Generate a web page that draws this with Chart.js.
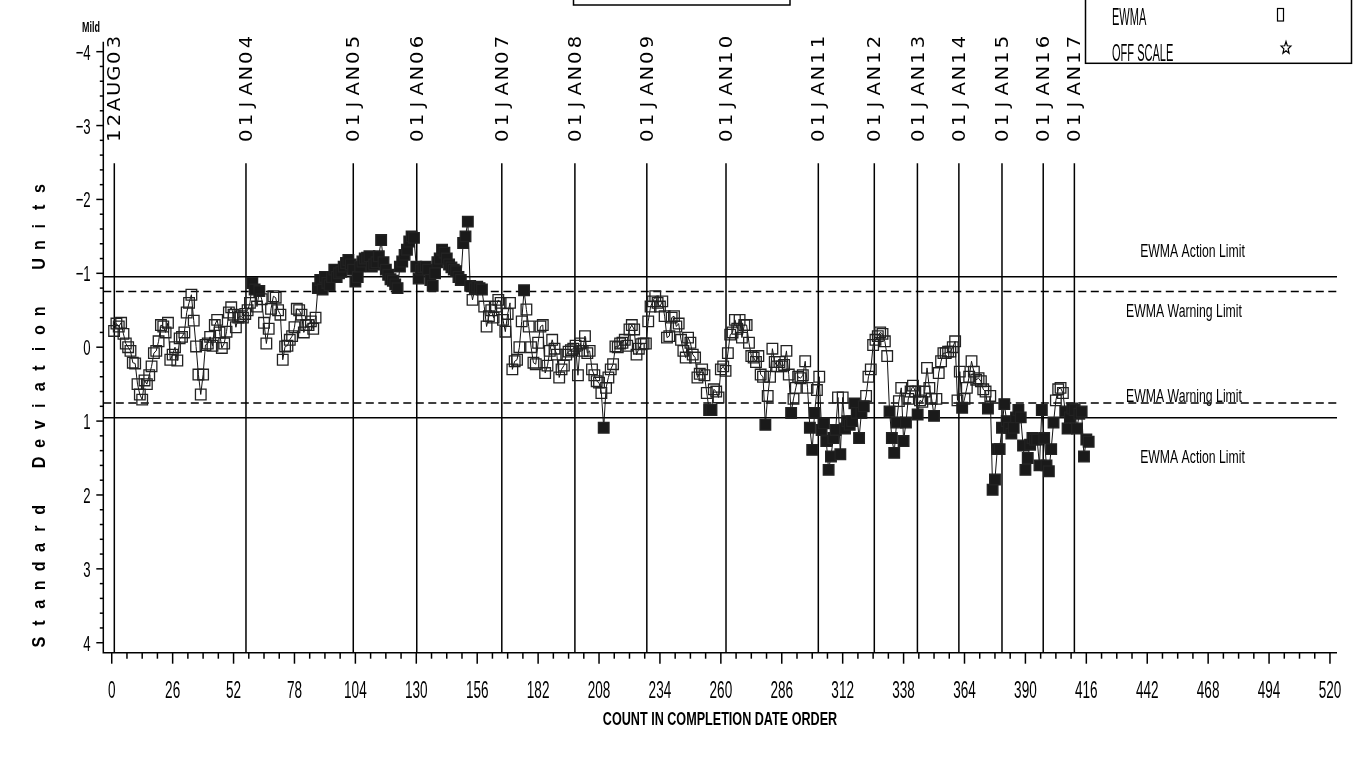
<!DOCTYPE html>
<html>
<head>
<meta charset="utf-8">
<title>EWMA chart</title>
<script src="https://cdn.jsdelivr.net/npm/chart.js@4.4.1/dist/chart.umd.min.js"></script>
<style>
  html, body { margin: 0; padding: 0; background: #fff; }
  #chart { display: block; }
</style>
</head>
<body>
<canvas id="chart" width="1357" height="761"></canvas>
<script>
// EWMA in standard deviation units, one value per count (1..417)
const ewmaValues = [
  // 1-83
  -0.22,-0.32,-0.28,-0.33,-0.18,-0.05,0.00,0.05,0.21,0.22,
  0.50,0.64,0.71,0.45,0.50,0.38,0.26,0.08,0.05,-0.08,
  -0.30,-0.28,-0.20,-0.33,0.17,0.10,0.00,0.18,-0.12,-0.14,
  -0.20,-0.47,-0.60,-0.71,-0.36,-0.01,0.37,0.64,0.37,-0.03,
  -0.05,-0.14,-0.02,-0.30,-0.37,-0.20,0.01,-0.05,-0.21,-0.47,
  -0.54,-0.44,-0.27,-0.40,-0.42,-0.40,-0.45,-0.50,-0.60,-0.87,
  -0.78,-0.55,-0.76,-0.65,-0.33,-0.05,-0.25,-0.52,-0.69,-0.67,
  -0.50,-0.44,0.17,-0.01,-0.02,-0.10,-0.15,-0.27,-0.52,-0.50,
  -0.44,-0.20,-0.30,
  // 84-165
  -0.30,-0.35,-0.25,-0.40,-0.80,-0.91,-0.78,-0.95,-0.87,-0.84,
  -0.95,-1.05,-0.95,-1.00,-1.02,-1.09,-1.14,-1.18,-1.12,-1.05,
  -0.89,-0.95,-1.09,-1.16,-1.20,-1.21,-1.23,-1.09,-1.12,-1.15,
  -1.23,-1.45,-1.15,-1.05,-0.98,-0.92,-0.90,-0.85,-0.80,-1.09,
  -1.16,-1.25,-1.32,-1.43,-1.50,-1.48,-1.09,-0.93,-1.05,-1.08,
  -1.09,-1.05,-0.91,-0.83,-1.00,-1.15,-1.20,-1.32,-1.28,-1.20,
  -1.12,-1.08,-1.05,-1.03,-0.95,-0.91,-1.41,-1.50,-1.70,-0.83,
  -0.64,-0.80,-0.82,-0.80,-0.78,-0.55,-0.28,-0.42,-0.50,-0.40,
  -0.55,-0.64,
  // 166-255
  -0.60,-0.37,-0.21,-0.45,-0.60,0.30,0.19,0.17,0.00,-0.35,
  -0.77,-0.51,-0.28,0.00,0.21,0.23,-0.06,-0.28,-0.30,0.35,
  0.25,0.05,-0.10,0.02,0.10,0.41,0.30,0.25,0.10,0.06,
  0.04,0.02,-0.02,0.38,-0.05,0.05,-0.15,0.08,0.05,0.30,
  0.38,0.46,0.48,0.62,1.09,0.55,0.41,0.30,0.23,-0.01,
  0.00,-0.05,-0.06,-0.10,-0.02,-0.24,-0.30,-0.24,0.10,0.02,
  -0.04,-0.05,-0.05,-0.35,-0.55,-0.62,-0.69,-0.60,-0.55,-0.62,
  -0.42,-0.13,-0.15,-0.40,-0.42,-0.28,-0.32,-0.10,0.05,0.14,
  -0.13,-0.06,0.10,0.14,0.41,0.36,0.30,0.38,0.62,0.85,
  // 256-338
  0.85,0.57,0.60,0.68,0.30,0.26,0.32,0.08,-0.17,-0.20,
  -0.37,-0.25,-0.37,-0.13,-0.30,-0.30,-0.06,0.12,0.14,0.20,
  0.12,0.37,0.40,1.05,0.66,0.40,0.02,0.20,0.26,0.20,
  0.26,0.24,0.05,0.37,0.89,0.70,0.55,0.40,0.42,0.38,
  0.19,0.55,1.09,1.39,0.89,0.58,0.40,1.12,1.03,1.27,
  1.66,1.48,1.23,1.12,0.68,1.45,0.68,1.10,1.00,1.05,
  1.00,0.76,0.89,1.23,0.89,0.80,0.66,0.40,0.30,-0.03,
  -0.10,-0.15,-0.20,-0.18,-0.08,0.12,0.87,1.23,1.43,1.02,
  0.73,0.55,1.27,
  // 339-417
  1.02,0.70,0.60,0.52,0.60,0.91,0.72,0.74,0.60,0.28,
  0.55,0.70,0.93,0.70,0.35,0.19,0.08,0.08,0.06,0.06,
  0.00,-0.08,0.72,0.33,0.82,0.70,0.55,0.40,0.19,0.33,
  0.44,0.42,0.46,0.57,0.60,0.83,0.66,1.93,1.79,1.38,
  1.38,1.09,0.77,1.00,1.09,1.17,1.09,0.95,0.85,0.95,
  1.33,1.66,1.50,1.32,1.23,1.25,1.25,1.60,0.85,1.23,
  1.60,1.68,1.38,1.02,0.72,0.57,0.55,0.62,0.87,1.10,
  0.95,0.83,0.85,1.10,0.90,0.87,1.48,1.25,1.28
];

// reference dates and the count at which each one falls
const dateLabels = ['12AUG03','01JAN04','01JAN05','01JAN06','01JAN07','01JAN08','01JAN09','01JAN10',
                    '01JAN11','01JAN12','01JAN13','01JAN14','01JAN15','01JAN16','01JAN17'];
const datePositions = [1.1, 57.3, 103.1, 130.2, 166.5, 197.7, 228.4, 262.2,
                       301.6, 325.5, 343.9, 361.6, 380.0, 397.6, 410.9];

const xTickValues = [0,26,52,78,104,130,156,182,208,234,260,286,312,338,364,390,416,442,468,494,520];
const yTickValues = [-4,-3,-2,-1,0,1,2,3,4];

const actionLimit = 0.955;
const warningLimit = 0.755;
const limitLabels = ['EWMA Action Limit', 'EWMA Warning Limit', 'EWMA Warning Limit', 'EWMA Action Limit'];
const legendLabels = ['EWMA', 'OFF SCALE'];

const FONT = '"Liberation Sans", Arial, sans-serif';

// SAS style lettering is very narrow, so squeeze the glyphs horizontally
function squeezedText(ctx, text, x, y, size, sx, align, bold) {
  ctx.save();
  ctx.translate(x, y);
  ctx.scale(sx, 1);
  ctx.font = (bold ? 'bold ' : '') + size + 'px ' + FONT;
  ctx.textAlign = align;
  ctx.textBaseline = 'alphabetic';
  ctx.fillStyle = '#000';
  ctx.fillText(text, 0, 0);
  ctx.restore();
}

// text running bottom to top, one character at a time
function verticalChars(ctx, text, cx, startY, step, font, stretch, spaceSlots) {
  let pos = startY;
  for (const ch of text) {
    if (ch === ' ') { pos -= step * spaceSlots; continue; }
    ctx.save();
    ctx.translate(cx, pos);
    ctx.rotate(-Math.PI / 2);
    ctx.scale(stretch, 1);
    ctx.font = font;
    ctx.textAlign = 'center';
    ctx.textBaseline = 'middle';
    ctx.fillStyle = '#000';
    ctx.fillText(ch, 0, 0);
    ctx.restore();
    pos -= step;
  }
}

const ewmaDecor = {
  id: 'ewmaDecor',
  beforeDatasetsDraw(chart) {
    const { ctx, chartArea: a, scales: { x, y } } = chart;
    ctx.save();
    ctx.strokeStyle = '#000';
    ctx.lineWidth = 1.5;
    const limits = [[-actionLimit, []], [-warningLimit, [8, 4.5]], [warningLimit, [8, 4.5]], [actionLimit, []]];
    limits.forEach(([v, dash]) => {
      const py = y.getPixelForValue(v);
      ctx.setLineDash(dash);
      ctx.beginPath();
      ctx.moveTo(a.left, py);
      ctx.lineTo(a.right, py);
      ctx.stroke();
    });
    ctx.setLineDash([]);
    const lineTop = y.getPixelForValue(-2.49);
    datePositions.forEach(p => {
      const px = x.getPixelForValue(p);
      ctx.beginPath();
      ctx.moveTo(px, lineTop);
      ctx.lineTo(px, a.bottom);
      ctx.stroke();
    });
    ctx.restore();
  },
  afterDraw(chart) {
    const { ctx, chartArea: a, scales: { x, y } } = chart;
    ctx.save();
    ctx.strokeStyle = '#000';
    ctx.lineWidth = 1.5;

    // axis lines
    ctx.beginPath();
    ctx.moveTo(a.left, a.top);
    ctx.lineTo(a.left, a.bottom);
    ctx.lineTo(a.right, a.bottom);
    ctx.stroke();

    // x ticks, minor every 6.5
    for (let i = 0; i <= 80; i++) {
      const px = x.getPixelForValue(i * 6.5);
      const len = i % 4 === 0 ? 11 : 6;
      ctx.beginPath();
      ctx.moveTo(px, a.bottom);
      ctx.lineTo(px, a.bottom + len);
      ctx.stroke();
    }
    // y ticks, minor every 0.2
    for (let i = -20; i <= 20; i++) {
      const py = y.getPixelForValue(i * 0.2);
      const len = i % 5 === 0 ? 7 : 3.5;
      ctx.beginPath();
      ctx.moveTo(a.left, py);
      ctx.lineTo(a.left - len, py);
      ctx.stroke();
    }

    xTickValues.forEach(v => {
      squeezedText(ctx, String(v), x.getPixelForValue(v), a.bottom + 45.5, 23, 0.59, 'center');
    });
    yTickValues.forEach(v => {
      const label = v < 0 ? '\u2212' + (-v) : String(v);
      squeezedText(ctx, label, a.left - 12.6, y.getPixelForValue(v) + 8, 22, 0.6, 'right');
    });

    // date labels above the reference lines
    dateLabels.forEach((lab, i) => {
      const px = x.getPixelForValue(datePositions[i]) + 1.7;
      verticalChars(ctx, lab, px, 135.7, 15.6, '17px "DejaVu Sans", sans-serif', 1.15, 1);
    });

    // limit labels on the right
    const labelY = [250, 310, 395.5, 456.7];
    const labelX = [1192.5, 1184, 1184, 1192.5];
    limitLabels.forEach((t, i) => {
      squeezedText(ctx, t, labelX[i], labelY[i] + 6.5, 18, 0.68, 'center');
    });

    // axis titles
    squeezedText(ctx, 'COUNT IN COMPLETION DATE ORDER', 720, 724.5, 18, 0.70, 'center', true);
    verticalChars(ctx, 'Standard Deviation Units', 40, 642, 18.9, 'bold 19px ' + FONT, 0.85, 1.5);
    squeezedText(ctx, 'Mild', 91, 32, 14, 0.64, 'center', true);

    // boxes at the top edge (cut off by the page)
    ctx.lineWidth = 1.5;
    ctx.strokeRect(573.5, -5, 216.5, 10);
    ctx.strokeRect(1085.5, -5, 266, 68.3);

    squeezedText(ctx, legendLabels[0], 1112, 25, 24, 0.46, 'left');
    squeezedText(ctx, legendLabels[1], 1112, 61, 24, 0.46, 'left');
    ctx.lineWidth = 1.2;
    ctx.strokeRect(1277.5, 8.5, 6, 12.5);
    // small outlined star for OFF SCALE
    ctx.beginPath();
    for (let k = 0; k < 10; k++) {
      const r = k % 2 === 0 ? 6.5 : 2.8;
      const ang = -Math.PI / 2 + k * Math.PI / 5;
      const sx = 1286 + r * Math.cos(ang) * 0.8;
      const sy = 48 + r * Math.sin(ang);
      if (k === 0) ctx.moveTo(sx, sy); else ctx.lineTo(sx, sy);
    }
    ctx.closePath();
    ctx.stroke();

    ctx.restore();
  }
};

const points = ewmaValues.map((v, i) => ({ x: i + 1, y: v }));

new Chart(document.getElementById('chart'), {
  type: 'scatter',
  data: {
    datasets: [{
      label: 'EWMA',
      data: points,
      showLine: true,
      borderColor: '#111',
      borderWidth: 1,
      tension: 0,
      pointStyle: 'rect',
      pointRadius: 7.5,
      pointHoverRadius: 7.5,
      pointBorderWidth: 1.3,
      pointBorderColor: '#222',
      pointBackgroundColor: c => (c.raw && Math.abs(c.raw.y) > warningLimit) ? '#1a1a1a' : 'rgba(0,0,0,0)',
      clip: false
    }]
  },
  options: {
    responsive: false,
    animation: false,
    devicePixelRatio: 1,
    events: [],
    layout: { padding: { left: 0, right: 20, top: 41.7, bottom: 0 } },
    plugins: { legend: { display: false }, tooltip: { enabled: false } },
    scales: {
      x: {
        type: 'linear', min: -3.6, max: 523,
        ticks: { display: false }, grid: { display: false }, border: { display: false },
        afterFit: s => { s.height = 108.3; }
      },
      y: {
        type: 'linear', min: -4.135, max: 4.135, reverse: true,
        ticks: { display: false }, grid: { display: false }, border: { display: false },
        afterFit: s => { s.width = 103.3; }
      }
    }
  },
  plugins: [ewmaDecor]
});
</script>
</body>
</html>
